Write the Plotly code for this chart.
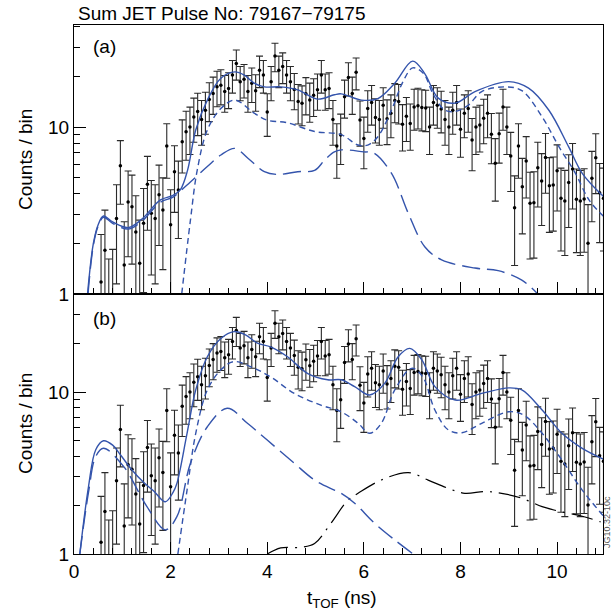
import plotly.graph_objects as go

# ---------------- data ----------------
T_START = 0.56
BIN_WIDTH = 0.08

counts = [1.18, 1.83, 0.75, 0.9, 2.83, 5.87, 1.49, 3.56, 3.33, 2.35, 1.53, 2.65, 4.54, 3.04, 2.83, 3.93, 3.18, 7.7, 2.60, 5.40,
          4.2, 8.17, 9.38, 10.0, 11.5, 12.4, 11.1, 12.6, 14.6, 15.9, 17.4, 17.8, 16.3, 17.0, 20.5, 24.0, 18.7, 19.3, 16.3,
          18.3, 16.5, 21.9, 20.5, 12.3, 18.7, 26.6, 21.9, 23.0, 20.5, 18.7, 16.8, 14.2, 13.9, 15.8, 14.5, 15.5, 16.7, 20.5,
          16.7, 17.0, 11.1, 7.7, 8.95, 15.2, 19.8,
          15.9, 21.3, 11.0, 8.55, 12.9, 14.0, 11.4, 11.1, 13.5, 11.2, 12.1, 14.4, 14.2, 10.4, 11.6, 10.5, 13.2, 13.4, 13.1, 13.0,
          10.0, 14.0, 13.5, 12.8, 11.1, 10.0, 12.6, 14.0, 9.7, 12.1, 12.9, 8.36, 10.0, 10.3, 11.3, 12.1, 9.04, 6.06, 9.1, 13.2,
          10.0, 6.7, 3.29, 7.7, 4.39, 6.26, 3.49, 3.52, 5.71, 4.75, 6.58, 4.45, 4.5, 5.48, 3.74, 3.6, 4.66, 5.6, 3.69, 3.6,
          3.7, 2.01, 4.93, 6.55, 4.04, 3.74]

count_err = [1.09, 1.35, 0.87, 0.95, 1.68, 2.42, 1.22, 1.89, 1.82, 1.53, 1.24, 1.63, 2.13, 1.74, 1.68, 1.98, 1.78, 2.77, 1.61,
             2.32, 2.05, 2.86, 3.06, 3.16, 3.39, 3.52, 3.33, 3.55, 3.82, 3.99, 4.17, 4.22, 4.04, 4.12, 4.53, 4.9, 4.32, 4.39,
             4.04, 4.28, 4.06, 4.68, 4.53, 3.51, 4.32, 5.16, 4.68, 4.8, 4.53, 4.32, 4.1, 3.77, 3.73, 3.97, 3.81, 3.94, 4.09,
             4.53, 4.09, 4.12, 3.33, 2.77, 2.99, 3.9, 4.45,
             3.99, 4.62, 3.32, 2.92, 3.59, 3.74, 3.38, 3.33, 3.67, 3.35, 3.48, 3.79, 3.77, 3.22, 3.41, 3.24, 3.63, 3.66, 3.62, 3.61,
             3.16, 3.74, 3.67, 3.58, 3.33, 3.16, 3.55, 3.74, 3.11, 3.48, 3.59, 2.89, 3.16, 3.21, 3.36, 3.48, 3.01, 2.46, 3.02, 3.63,
             3.16, 2.59, 1.81, 2.77, 2.1, 2.5, 1.87, 1.88, 2.39, 2.18, 2.57, 2.11, 2.12, 2.34, 1.93, 1.9, 2.16, 2.37, 1.92, 1.9,
             1.92, 1.42, 2.22, 2.56, 2.01, 1.93]

t_bins = [round(T_START + BIN_WIDTH * i, 4) for i in range(len(counts))]

# panel (a) fit curves
a_total_t = [0.28, 0.40, 0.50, 0.61, 0.80, 1.13, 1.40, 1.79, 2.05, 2.20, 2.35, 2.52, 2.76, 3.04, 3.33, 3.52, 3.73, 3.94, 4.28,
             4.63, 5.04, 5.39, 5.53, 5.95, 6.29, 6.64, 7.01, 7.26, 7.54, 7.89, 8.30, 9.00, 9.41, 9.83, 10.24, 10.52, 11.0]
a_total_v = [1.0, 2.0, 2.6, 2.93, 2.7, 2.5, 2.8, 3.66, 3.9, 4.2, 5.5, 9.6, 14.5, 19.6, 21.4, 20.5, 18.3, 17.4, 17.4,
             16.7, 14.7, 15.6, 15.8, 14.5, 14.8, 18.3, 24.8, 20.9, 14.9, 13.9, 16.3, 18.7, 17.1, 12.6, 7.6, 5.28, 3.74]

a_comp1_t = [2.23, 2.41, 2.55, 2.76, 3.04, 3.33, 3.73, 4.00, 4.42, 4.98, 5.53, 5.88, 6.08, 6.29, 6.57, 6.81, 7.01, 7.23, 7.44,
             7.68, 7.89, 8.16, 8.44, 8.93, 9.27, 9.69, 10.04, 10.38, 10.66, 10.97]
a_comp1_v = [1.0, 2.77, 5.5, 9.6, 12.9, 14.5, 12.1, 11.0, 10.6, 9.4, 9.0, 7.8, 7.8, 8.75, 12.6, 18.7, 22.6, 21.0, 15.6,
             12.6, 12.4, 13.5, 16.3, 17.4, 16.5, 11.5, 7.6, 5.28, 3.66, 2.9]

a_comp2_t = [0.29, 0.40, 0.50, 0.61, 0.80, 1.13, 1.40, 1.79, 2.05, 2.34, 2.76, 3.04, 3.33, 3.60, 3.94, 4.20, 4.63, 4.98, 5.20,
             5.39, 5.53, 6.00, 6.20, 6.57, 6.92, 7.26, 7.61, 8.30, 8.78, 9.27, 9.60]
a_comp2_v = [1.0, 1.95, 2.55, 2.88, 2.65, 2.45, 2.72, 3.55, 3.8, 4.5, 5.8, 6.8, 7.45, 6.5, 5.4, 5.2, 5.4, 5.5, 6.4,
             7.1, 7.3, 7.1, 7.0, 5.3, 3.04, 1.92, 1.6, 1.43, 1.38, 1.21, 1.0]

# panel (b) fit curves
b_total_t = [0.12, 0.30, 0.45, 0.61, 0.80, 0.96, 1.20, 1.45, 1.65, 1.89, 2.05, 2.13, 2.34, 2.52, 2.76, 3.04, 3.31, 3.55, 3.80,
             4.07, 4.42, 4.84, 5.25, 5.53, 5.81, 6.12, 6.43, 6.71, 6.95, 7.20, 7.47, 7.89, 8.44, 9.00, 9.27, 9.69, 10.10,
             10.52, 11.0]
b_total_v = [1.0, 2.6, 4.4, 5.0, 4.7, 4.1, 3.3, 2.75, 2.45, 2.1, 2.4, 2.73, 5.56, 10.3, 16.5, 21.4, 23.6, 22.5, 20.0,
             19.0, 16.5, 13.0, 11.9, 11.9, 10.8, 9.58, 11.3, 16.5, 18.6, 15.8, 10.8, 8.92, 9.8, 10.6, 10.3, 7.74, 5.56,
             4.49, 3.8]

b_comp1_t = [2.15, 2.34, 2.52, 2.76, 3.04, 3.31, 3.73, 4.07, 4.56, 5.11, 5.53, 5.88, 6.12, 6.36, 6.64, 6.99, 7.22, 7.47, 7.75,
             8.03, 8.44, 9.00, 9.31, 9.69, 10.10, 10.52, 11.0]
b_comp1_v = [1.0, 2.48, 5.56, 10.3, 13.7, 15.4, 14.0, 12.4, 9.8, 8.3, 7.55, 6.41, 5.56, 6.4, 10.3, 14.0, 12.4, 7.74, 5.83,
             5.6, 6.41, 7.55, 7.2, 5.56, 3.8, 2.48, 1.66]

b_comp2_t = [0.12, 0.30, 0.45, 0.61, 1.03, 1.51, 1.89, 2.13, 2.41, 2.76, 3.17, 3.59, 4.00, 4.56, 4.98, 5.39, 5.53, 5.81, 6.22,
             6.64, 7.02]
b_comp2_v = [1.0, 2.4, 4.0, 4.5, 3.46, 1.96, 1.41, 1.70, 3.63, 6.1, 7.93, 6.41, 5.05, 3.63, 2.86, 2.48, 2.37, 2.06, 1.55,
             1.22, 1.0]

b_comp3_t = [4.00, 4.28, 4.70, 4.98, 5.32, 5.67, 5.88, 6.36, 6.92, 7.33, 7.75, 8.09, 8.51, 8.85, 9.27, 9.69, 10.10, 10.52, 10.90]
b_comp3_v = [1.0, 1.09, 1.1, 1.16, 1.55, 2.15, 2.37, 2.86, 3.18, 2.86, 2.54, 2.37, 2.43, 2.37, 2.21, 1.96, 1.82, 1.71, 1.58]

title_text = "Sum JET Pulse No: 79167\u221279175"
x_ticks = [0, 2, 4, 6, 8, 10]
y_ticks = [1, 10]
y_minor = [2, 3, 4, 5, 6, 7, 8, 9, 20, 30, 40]

# ---------------- styling ----------------
BLUE = "rgb(52,84,172)"
FONT = "Liberation Sans, Arial, Helvetica, sans-serif"

fig = go.Figure()


def add_data(xa, ya):
    fig.add_trace(go.Scatter(
        x=t_bins, y=counts, mode="markers", xaxis=xa, yaxis=ya,
        marker=dict(color="black", size=3.5),
        error_y=dict(type="data", array=count_err, visible=True, color="#2a2a2a", thickness=1.1, width=3.5),
        showlegend=False))


def add_curve(t, v, xa, ya, color, dash, width=1.4):
    fig.add_trace(go.Scatter(x=t, y=v, mode="lines", xaxis=xa, yaxis=ya,
                             line=dict(color=color, dash=dash, width=width, shape="spline", smoothing=1.0),
                             showlegend=False))


add_data("x", "y")
add_curve(a_comp2_t, a_comp2_v, "x", "y", BLUE, "18px,7px")
add_curve(a_comp1_t, a_comp1_v, "x", "y", BLUE, "6px,4px")
add_curve(a_total_t, a_total_v, "x", "y", BLUE, "solid")

add_data("x2", "y2")
add_curve(b_comp3_t, b_comp3_v, "x2", "y2", "black", "22px,7px,2px,7px", 1.2)
add_curve(b_comp2_t, b_comp2_v, "x2", "y2", BLUE, "18px,7px")
add_curve(b_comp1_t, b_comp1_v, "x2", "y2", BLUE, "6px,4px")
add_curve(b_total_t, b_total_v, "x2", "y2", BLUE, "solid")

PLOT_H = 529.0
split = 260 / PLOT_H

xcommon = dict(range=[0, 10.95], tickvals=x_ticks, ticks="inside", ticklen=12, tickwidth=1, tickcolor="black",
               minor=dict(dtick=0.4, tick0=0, ticks="inside", ticklen=6, tickcolor="black", tickwidth=1),
               showline=True, linecolor="black", linewidth=1.2, mirror=True, showgrid=False, zeroline=False,
               tickfont=dict(size=19, color="black", family=FONT))
ycommon = dict(type="log", tickvals=y_ticks, ticktext=["1", "10"], ticks="inside", ticklen=12, tickwidth=1,
               tickcolor="black",
               minor=dict(tickvals=y_minor, ticks="inside", ticklen=6, tickcolor="black", tickwidth=1),
               showline=True, linecolor="black", linewidth=1.2, mirror=True, showgrid=False, zeroline=False,
               tickfont=dict(size=19, color="black", family=FONT))

fig.update_layout(
    width=613, height=612,
    margin=dict(l=74, r=10, t=25, b=58),
    paper_bgcolor="white", plot_bgcolor="white",
    font=dict(family=FONT, color="black"),
    xaxis=dict(xcommon, anchor="y", showticklabels=False),
    xaxis2=dict(xcommon, anchor="y2"),
    yaxis=dict(ycommon, domain=[split, 1], range=[0, 1.611], anchor="x"),
    yaxis2=dict(ycommon, domain=[0, split], range=[0, 1.605], anchor="x2"),
)


def px(xp, yp):
    # pixel position in the page -> paper coordinates
    return (xp - 74) / 529.0, (554 - yp) / PLOT_H


def label(text, xp, yp, size, angle=0, color="black", xanchor="center"):
    x, y = px(xp, yp)
    return dict(text=text, x=x, y=y, xref="paper", yref="paper", xanchor=xanchor, yanchor="middle",
                textangle=angle, showarrow=False, font=dict(size=size, color=color, family=FONT))


ann = [
    label(title_text, 76, 13, 19, xanchor="left"),
    label("(a)", 104, 46, 19),
    label("(b)", 104, 318, 19),
    label("Counts / bin", 25, 160, 19, angle=-90),
    label("Counts / bin", 25, 424, 19, angle=-90),
    label("t<sub>TOF</sub> (ns)", 342, 599, 19),
    label("JG10.32-10c", 607, 522, 9, angle=-90, color="#555555"),
]
fig.update_layout(annotations=ann)

fig.write_html("out.html")
